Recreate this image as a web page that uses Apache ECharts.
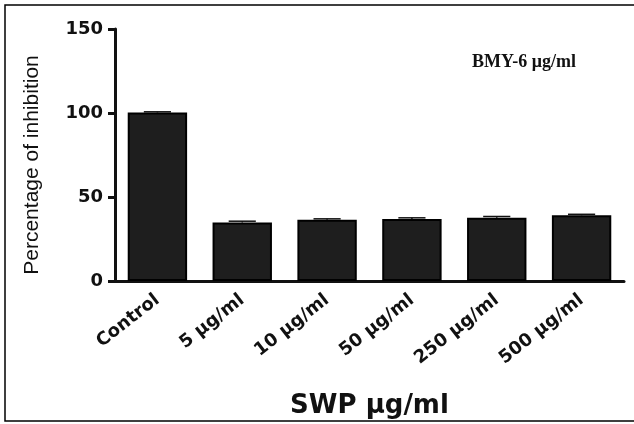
<!DOCTYPE html>
<html>
<head>
<meta charset="utf-8">
<script src="https://cdn.jsdelivr.net/npm/echarts@6/dist/echarts.min.js"></script>
<style>
  html, body { margin: 0; padding: 0; background: #fff; }
  #main { width: 634px; height: 424px; }
</style>
</head>
<body>
<div id="main"></div>
<script>
// 数据
var categories = ['Control', '5 μg/ml', '10 μg/ml', '50 μg/ml', '250 μg/ml', '500 μg/ml'];
var inhibition = [100.3, 34.8, 36.4, 36.9, 37.6, 39.1];
var errors = [0.4, 0.8, 0.6, 0.7, 0.8, 0.6];
var yTicks = [0, 50, 100, 150];

var myChart = echarts.init(document.getElementById('main'));

const option = {
  animation: false,
  backgroundColor: '#fff',
  title: {
    text: 'BMY-6 μg/ml',
    left: 467,
    top: 48,
    textStyle: {
      fontFamily: 'Liberation Serif',
      fontWeight: 'bold',
      fontSize: 18,
      color: '#111',
    },
  },
  graphic: [
    {
      type: 'rect',
      shape: { x: 5, y: 5, width: 632, height: 416 },
      style: { fill: 'none', stroke: '#000', lineWidth: 1.5 },
      silent: true,
    },
  ],
  grid: {
    left: 115,
    right: 10,
    top: 29,
    bottom: 140,
  },
  xAxis: {
    type: 'category',
    data: categories,
    name: 'SWP μg/ml',
    nameLocation: 'middle',
    nameGap: 112,
    nameTextStyle: {
      fontFamily: 'DejaVu Sans',
      fontWeight: 'bold',
      fontSize: 26,
      color: '#111',
    },
    axisLine: { lineStyle: { color: '#111', width: 3 } },
    axisTick: { alignWithLabel: true, length: 7, lineStyle: { color: '#111', width: 3 } },
    axisLabel: {
      rotate: 38,
      margin: 17,
      interval: 0,
      fontFamily: 'DejaVu Sans',
      fontWeight: 'bold',
      fontSize: 18,
      color: '#111',
    },
  },
  yAxis: {
    type: 'value',
    min: 0,
    max: 150,
    interval: 50,
    name: 'Percentage of inhibition',
    nameLocation: 'middle',
    nameGap: 72,
    nameTextStyle: {
      fontFamily: 'Liberation Sans',
      fontSize: 21,
      color: '#111',
      padding: [0, 20, 0, 0],
    },
    axisLine: { show: true, lineStyle: { color: '#111', width: 3 } },
    axisTick: { show: true, length: 7, lineStyle: { color: '#111', width: 3 } },
    axisLabel: {
      margin: 12,
      fontFamily: 'DejaVu Sans',
      fontWeight: 'bold',
      fontSize: 18,
      color: '#111',
      formatter: function (v) {
        return yTicks.indexOf(v) >= 0 ? v : '';
      },
    },
    splitLine: { show: false },
  },
  series: [
    {
      type: 'bar',
      data: inhibition,
      barWidth: '70%',
      itemStyle: {
        color: '#1e1e1e',
        borderColor: '#000',
        borderWidth: 2,
      },
      z: 2,
    },
    {
      // 误差线
      type: 'custom',
      z: 3,
      data: inhibition.map(function (v, i) {
        return [i, v, errors[i]];
      }),
      renderItem: function (params, api) {
        var i = api.value(0);
        var top = api.coord([i, api.value(1) + api.value(2)]);
        var base = api.coord([i, api.value(1)]);
        var half = api.size([1, 0])[0] * 0.16;
        return {
          type: 'group',
          children: [
            {
              type: 'line',
              shape: { x1: top[0] - half, y1: top[1], x2: top[0] + half, y2: top[1] },
              style: { stroke: '#111', lineWidth: 1.5 },
            },
            {
              type: 'line',
              shape: { x1: top[0], y1: top[1], x2: base[0], y2: base[1] },
              style: { stroke: '#111', lineWidth: 1.5 },
            },
          ],
        };
      },
    },
  ],
};
myChart.setOption(option);
</script>
</body>
</html>
